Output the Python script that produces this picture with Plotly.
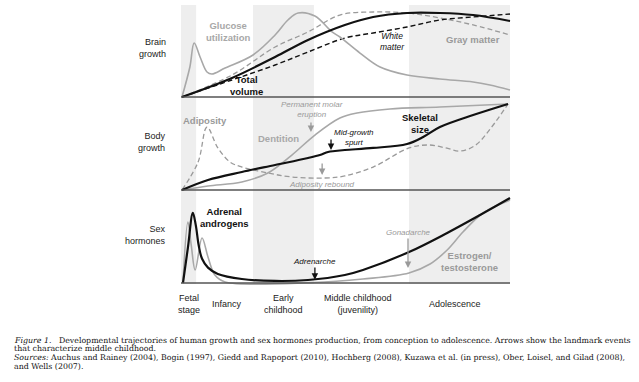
import plotly.graph_objects as go

# ---------------- data (x: developmental time 0-100, y: relative level 0-100 per panel)
stage_names = ["Fetal<br>stage", "Infancy", "Early<br>childhood",
               "Middle childhood<br>(juvenility)", "Adolescence"]
stage_label_x = [2.4, 14.0, 31.3, 53.8, 83.3]
shaded_from = [0.0, 21.9, 69.3]
shaded_to = [4.6, 40.4, 100.0]

# Brain growth panel
glucose_x = [0.3, 2.7, 4.0, 5.8, 7.9, 9.4, 13.4, 21.9, 28.6, 32.5, 35.6, 40.7, 45.9, 48.3, 54.4, 60.5, 68.7, 78.7, 88.8, 93.9, 100]
glucose_y = [0, 32.6, 58.7, 43.5, 27.2, 25.0, 31.5, 45.7, 67.4, 83.7, 91.3, 88.0, 70.7, 65.2, 47.8, 32.6, 23.9, 19.6, 16.3, 13.0, 7.6]
total_x = [0.3, 15.5, 28.6, 38.6, 49.8, 58.4, 68.7, 78.7, 88.8, 100]
total_y = [0, 20.7, 43.5, 62.0, 78.3, 87.0, 91.3, 91.3, 89.1, 82.6]
gray_matter_x = [0.3, 15.5, 28.6, 38.6, 48.3, 58.4, 68.7, 78.7, 88.8, 100]
gray_matter_y = [0, 23.9, 54.3, 70.7, 89.1, 92.4, 91.3, 85.9, 78.3, 67.4]
white_matter_x = [0.3, 15.5, 28.6, 38.6, 49.8, 58.4, 68.7, 78.7, 88.8, 100]
white_matter_y = [0, 18.5, 34.8, 48.9, 64.1, 69.6, 76.1, 83.7, 87.0, 90.2]

# Body growth panel
skeletal_x = [0.3, 8.2, 18.5, 28.6, 38.6, 42.2, 44.7, 46.8, 49.8, 58.4, 68.7, 73.6, 78.7, 88.8, 99.4]
skeletal_y = [0, 10.8, 19.4, 26.9, 34.4, 37.6, 40.9, 41.9, 43.0, 45.2, 49.5, 57.0, 67.7, 80.6, 92.5]
dentition_x = [0.3, 8.2, 18.5, 26.4, 33.7, 40.7, 48.3, 53.5, 63.5, 78.7, 99.4]
dentition_y = [0, 4.3, 8.6, 18.3, 37.6, 59.1, 77.4, 82.8, 87.1, 89.2, 92.5]
adiposity_x = [0.3, 5.2, 7.9, 11.2, 14.9, 18.5, 26.4, 33.7, 43.8, 49.8, 58.4, 69.3, 75.4, 80.5, 85.0, 89.6, 94.2, 99.4]
adiposity_y = [0, 30.1, 67.7, 45.2, 30.1, 24.7, 18.3, 14.0, 12.9, 15.1, 24.7, 45.2, 48.4, 45.2, 41.9, 48.4, 66.7, 92.5]

# Sex hormones panel
adrenal_x = [0.6, 2.1, 3.6, 4.5, 5.4, 6.4, 8.2, 11.2, 18.5, 28.6, 38.6, 49.8, 55.3, 69.3, 80.9, 90.9, 100]
adrenal_y = [0, 38.0, 75.3, 62.0, 40.0, 26.0, 16.5, 9.7, 4.3, 2.2, 3.2, 8.6, 14.0, 33.3, 53.8, 73.1, 91.4]
estrogen_x = [0.6, 2.1, 3.1, 4.3, 6.4, 8.2, 10.3, 13.4, 40.1, 55.3, 69.3, 75.7, 80.9, 85.7, 91.8, 100]
estrogen_y = [0, 65.6, 40.9, 14.0, 48.4, 28.0, 8.6, 1.1, 0.5, 4.3, 10.8, 20.4, 35.5, 54.8, 75.3, 89.2]

panel_names = ["Brain<br>growth", "Body<br>growth", "Sex<br>hormones"]

# ---------------- layout geometry (pixels)
W, H = 639, 382
X_LEFT, X_RIGHT = 181, 510
XR = (-1, 101)
panels_px = [(97, 5), (190, 97), (283, 190)]  # (baseline px, top px)
YR = (-4, 104)


def ydomain(pb, pt):
    ppu = (pb - pt) / 100.0
    bot = pb + (0 - YR[0]) * ppu
    top = pt - (YR[1] - 100) * ppu
    return [1 - bot / H, 1 - top / H]


ppx = (X_RIGHT - X_LEFT) / 100.0
xdom = [(X_LEFT + XR[0] * ppx) / W, (X_LEFT + XR[1] * ppx) / W]

BLACK = "#111111"
GRAY = "#a8a8a8"
GRAYD = "#9a9a9a"
DASH = "5px,3px"

fig = go.Figure()


def add(x, y, yax, color, width, dash=None):
    fig.add_trace(go.Scatter(x=x, y=y, xaxis="x", yaxis=yax, mode="lines",
                             line=dict(color=color, width=width, dash=dash, shape="spline", smoothing=1.0),
                             hoverinfo="skip", showlegend=False))


# brain
add(gray_matter_x, gray_matter_y, "y", GRAYD, 1.3, DASH)
add(white_matter_x, white_matter_y, "y", BLACK, 1.4, DASH)
add(glucose_x, glucose_y, "y", GRAY, 1.6)
add(total_x, total_y, "y", BLACK, 2.2)
# body
add(adiposity_x, adiposity_y, "y2", GRAYD, 1.3, DASH)
add(dentition_x, dentition_y, "y2", GRAY, 1.6)
add(skeletal_x, skeletal_y, "y2", BLACK, 2.2)
# hormones
add(estrogen_x, estrogen_y, "y3", GRAY, 1.6)
add(adrenal_x, adrenal_y, "y3", BLACK, 2.2)

shapes = []
band_top = 1 - 5 / H
band_bot = 1 - 284 / H
for a, b in zip(shaded_from, shaded_to):
    shapes.append(dict(type="rect", xref="x", yref="paper", x0=a, x1=b, y0=band_bot, y1=band_top,
                       fillcolor="#eeeeee", line=dict(width=0), layer="below"))
for yr in ["y", "y2", "y3"]:
    shapes.append(dict(type="line", xref="x", yref=yr, x0=0, x1=100, y0=0, y1=0,
                       line=dict(color="#555555", width=1.5)))

SANS = "Liberation Sans, Arial, sans-serif"
ann = []


def lab(x, y, yref, text, color, size=9.5, bold=False, italic=False, align="center"):
    t = text
    if bold:
        t = "<b>" + t + "</b>"
    if italic:
        t = "<i>" + t + "</i>"
    ann.append(dict(x=x, y=y, xref="x", yref=yref, text=t, showarrow=False, align=align,
                    font=dict(family=SANS, size=size, color=color), xanchor="center", yanchor="middle"))


def arrow(x, y_tail, y_head, yref, color):
    ann.append(dict(x=x, y=y_head, ax=x, ay=y_tail, xref="x", yref=yref, axref="x", ayref=yref,
                    text="", showarrow=True, arrowhead=2, arrowsize=1, arrowwidth=1.3, arrowcolor=color))


# brain labels
lab(14.3, 70.7, "y", "Glucose<br>utilization", GRAY, 9.5, bold=True)
lab(19.8, 12.0, "y", "Total<br>volume", BLACK, 9.5, bold=True)
lab(64.4, 59.8, "y", "White<br>matter", BLACK, 8.5, italic=True)
lab(88.8, 63.0, "y", "Gray matter", GRAYD, 9.5, bold=True)
# body labels
lab(7.3, 74.2, "y2", "Adiposity", GRAYD, 9.5, bold=True)
lab(39.8, 86.6, "y2", "Permanent molar<br>eruption", GRAYD, 8, italic=True)
arrow(39.5, 74.2, 62.4, "y2", GRAYD)
lab(29.5, 55.9, "y2", "Dentition", GRAY, 9.5, bold=True)
lab(52.6, 56.5, "y2", "Mid-growth<br>spurt", BLACK, 8, italic=True)
arrow(45.6, 55.9, 43.0, "y2", BLACK)
lab(72.6, 72.0, "y2", "Skeletal<br>size", BLACK, 9.5, bold=True)
lab(42.9, 5.4, "y2", "Adiposity rebound", GRAYD, 8, italic=True)
arrow(42.9, 30.1, 16.1, "y2", GRAYD)
# hormone labels
lab(13.1, 70.4, "y3", "Adrenal<br>androgens", BLACK, 9.5, bold=True)
lab(40.7, 22.6, "y3", "Adrenarche", BLACK, 8, italic=True)
arrow(40.7, 18.3, 3.5, "y3", BLACK)
lab(69.0, 54.8, "y3", "Gonadarche", GRAYD, 8, italic=True)
arrow(69.0, 49.5, 16.1, "y3", GRAYD)
lab(87.8, 22.6, "y3", "Estrogen/<br>testosterone", GRAYD, 9.5, bold=True)

# panel names
for name, ypx in zip(panel_names, [48.5, 142, 235]):
    ann.append(dict(x=168 / W, y=1 - ypx / H, xref="paper", yref="paper", text=name, showarrow=False,
                    xanchor="right", yanchor="middle", align="right",
                    font=dict(family=SANS, size=9, color="#222222")))

# stage names
for name, sx in zip(stage_names, stage_label_x):
    ann.append(dict(x=sx, y=1 - 304 / H, xref="x", yref="paper", text=name, showarrow=False,
                    xanchor="center", yanchor="middle", align="center",
                    font=dict(family=SANS, size=9, color="#222222")))

# caption
caption_lines = [
    "<i>Figure 1.</i>&nbsp;&nbsp; Developmental trajectories of human growth and sex hormones production, from conception to adolescence. Arrows show the landmark events",
    "that characterize middle childhood.",
    "<i>Sources:</i> Auchus and Rainey (2004), Bogin (1997), Giedd and Rapoport (2010), Hochberg (2008), Kuzawa et al. (in press), Ober, Loisel, and Gilad (2008),",
    "and Wells (2007).",
]
for line, ypx in zip(caption_lines, [340, 348.7, 357.4, 366.1]):
    ann.append(dict(x=12 / W, y=1 - ypx / H, xref="paper", yref="paper", text=line, showarrow=False,
                    xanchor="left", yanchor="middle", align="left",
                    font=dict(family="DejaVu Serif, serif", size=7.85, color="#111111")))

layout = dict(
    width=W, height=H, margin=dict(l=0, r=0, t=0, b=0),
    paper_bgcolor="white", plot_bgcolor="rgba(0,0,0,0)",
    xaxis=dict(domain=xdom, range=list(XR), visible=False, fixedrange=True),
    shapes=shapes, annotations=ann, showlegend=False,
)
for i, (pb, pt) in enumerate(panels_px):
    key = "yaxis" if i == 0 else "yaxis%d" % (i + 1)
    layout[key] = dict(domain=ydomain(pb, pt), range=list(YR), visible=False, anchor="x", fixedrange=True)

fig.update_layout(**layout)
fig.write_html("out.html", config={"displayModeBar": False},
               post_script="document.body.style.margin='0px';document.body.style.overflow='hidden';")
